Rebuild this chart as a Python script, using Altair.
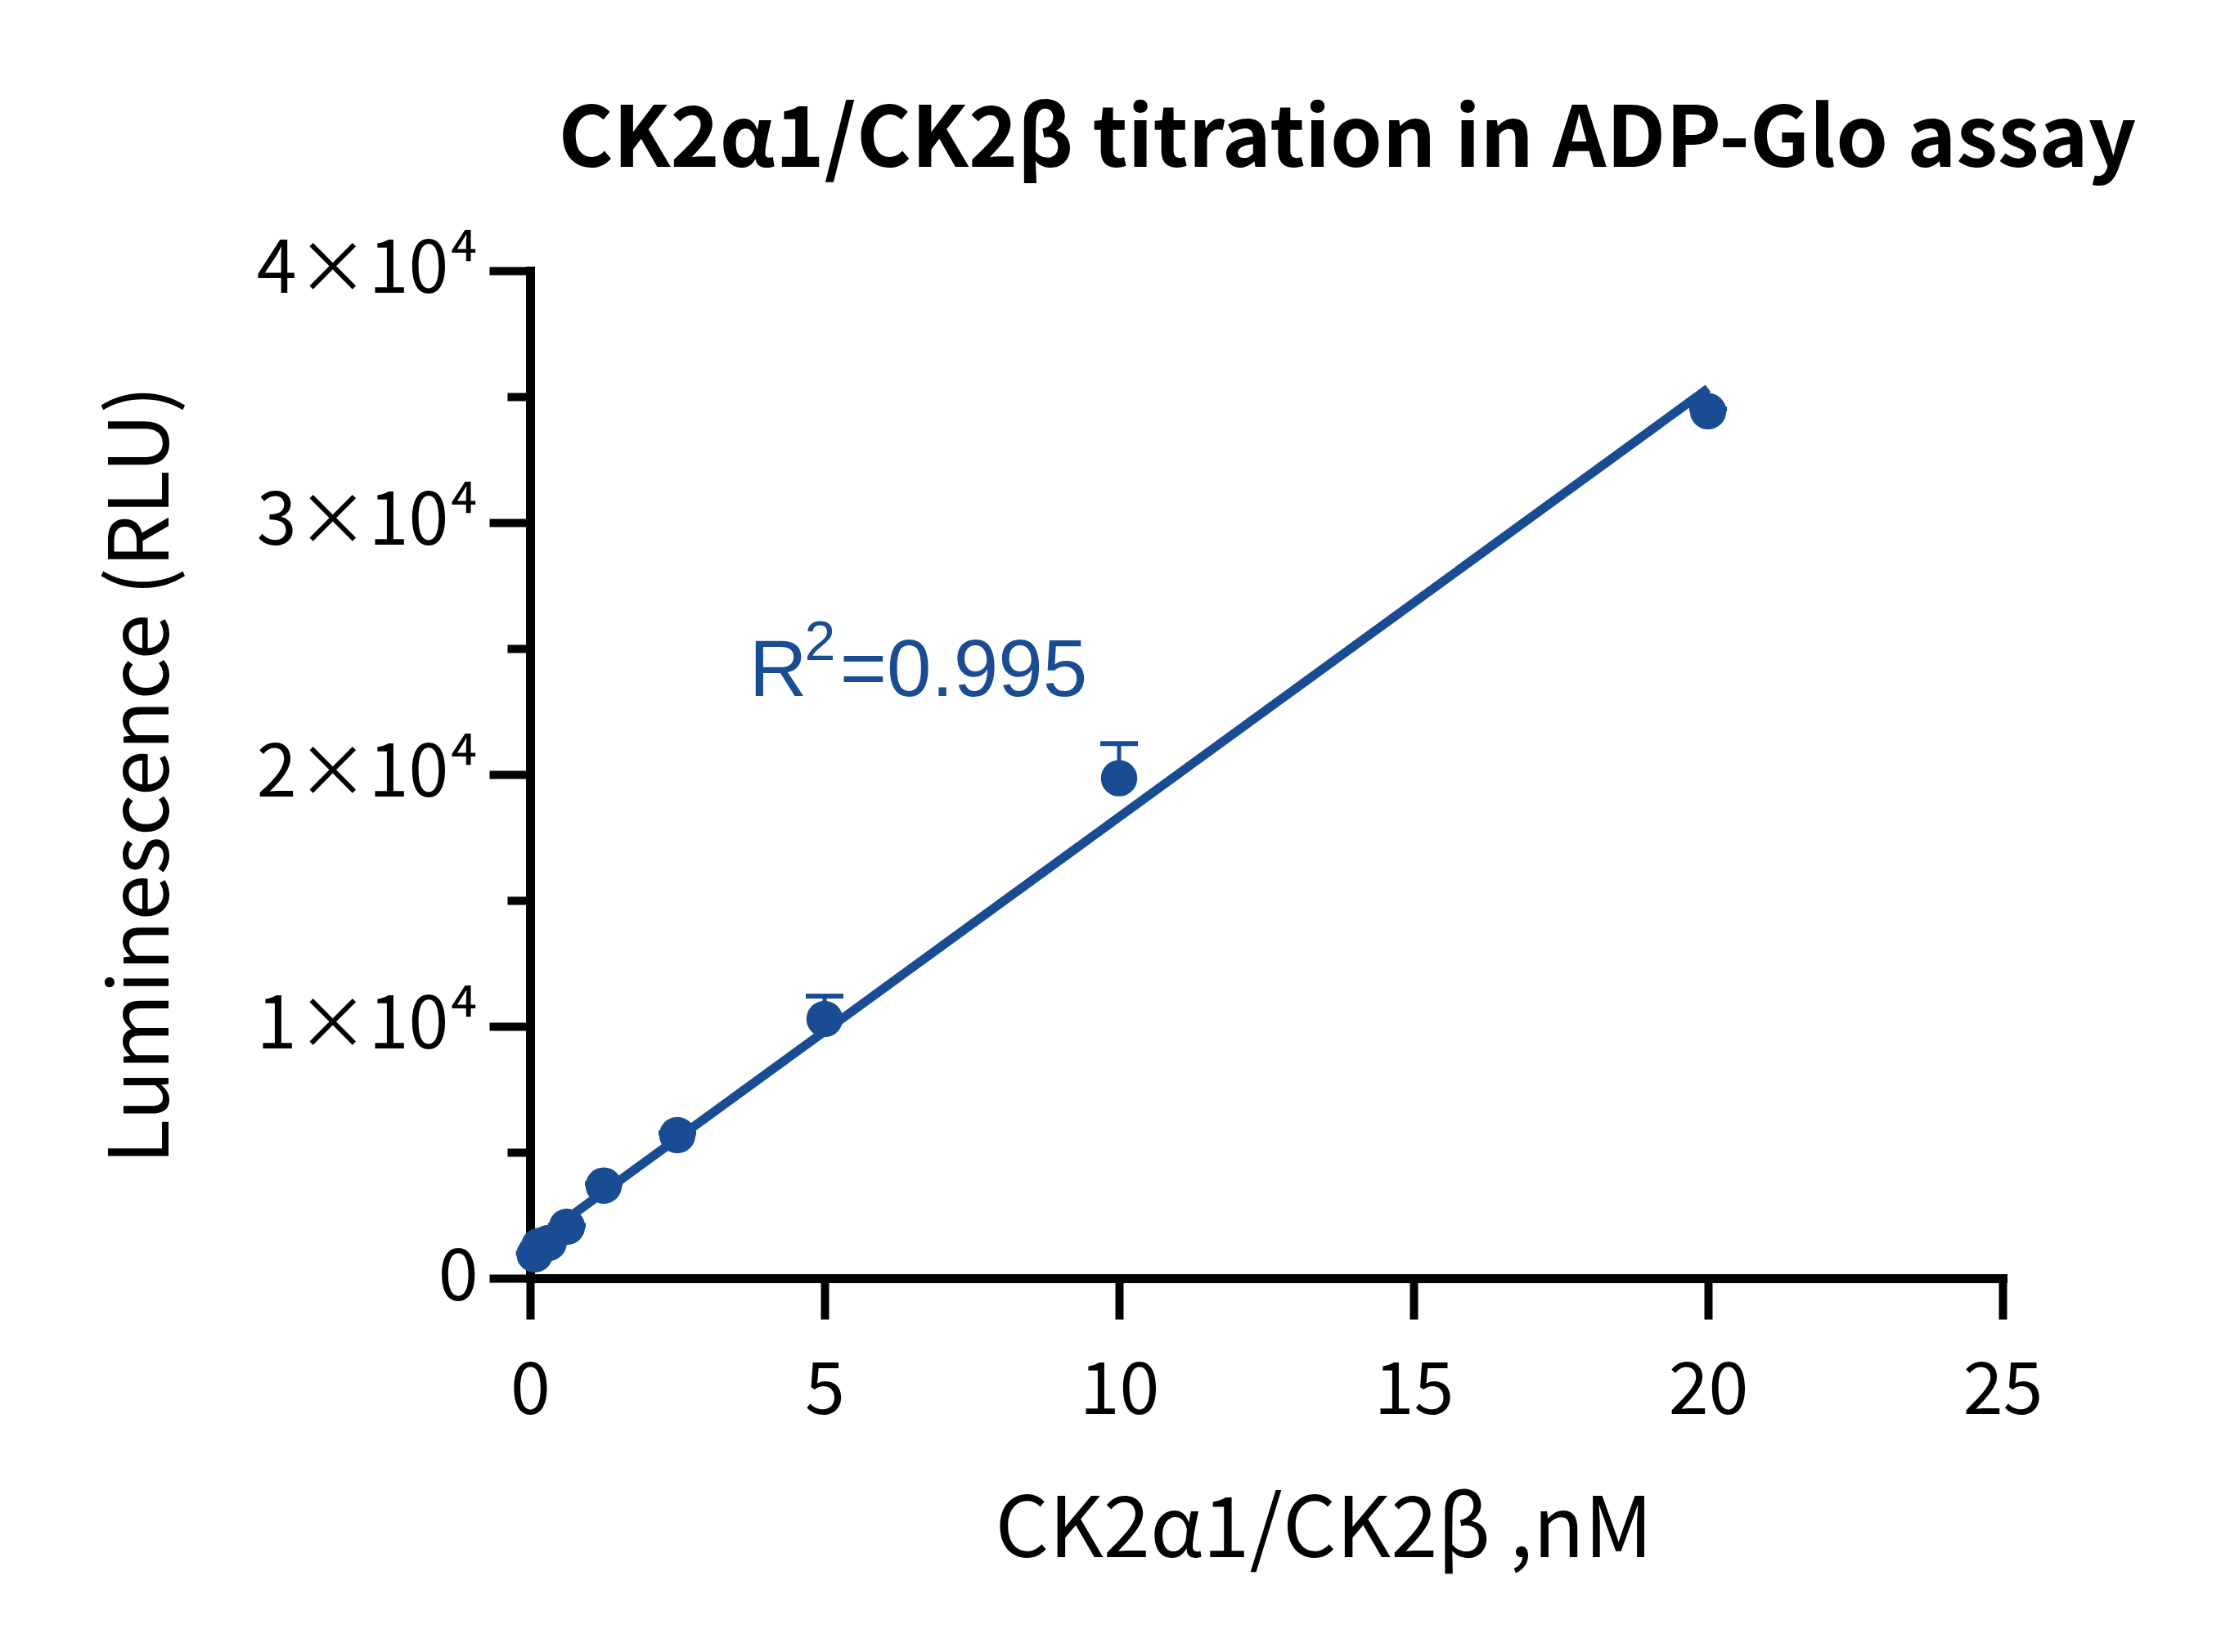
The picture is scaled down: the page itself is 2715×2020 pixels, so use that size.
import altair as alt
import pandas as pd

# ---- data ----
conc = [0.078125, 0.15625, 0.3125, 0.625, 1.25, 2.5, 5, 10, 20]
rlu = [950, 1280, 1400, 2045, 3680, 5680, 10290, 19850, 34420]
sd = [40, 50, 60, 60, 80, 90, 910, 1375, 90]
x_ticks = [0, 5, 10, 15, 20, 25]
y_ticks = [0, 5000, 10000, 15000, 20000, 25000, 30000, 35000, 40000]

BLUE = "#1A4C94"
FONT = "Noto Sans CJK SC"

df = pd.DataFrame({"conc": conc, "rlu": rlu, "sd": sd})

x_enc = alt.X(
    "conc:Q",
    scale=alt.Scale(domain=[0, 25], nice=False, zero=False),
    axis=alt.Axis(
        values=x_ticks,
        format="d",
        title="CK2α1/CK2β ,nM",
        titleFont=FONT,
        titleFontSize=103,
        titleFontWeight="normal",
        titleColor="black",
        titleX=970,
        titleY=340,
        titleBaseline="alphabetic",
        titleAnchor="middle",
        labelFont=FONT,
        labelFontSize=88,
        labelColor="black",
        labelPadding=45,
        labelFlush=False,
        labelOverlap=False,
        labelLimit=0,
        tickSize=50,
        tickWidth=10,
        tickColor="black",
        domainWidth=11,
        domainColor="black",
        domainCap="square",
        grid=False,
    ),
)

y_enc = alt.Y(
    "rlu:Q",
    scale=alt.Scale(domain=[0, 40000], nice=False),
    axis=alt.Axis(
        values=y_ticks,
        labelExpr="datum.value == 0 ? '0' : (datum.value % 10000 == 0 ? format(datum.value / 10000, 'd') + '×10⁴' : '')",
        title="Luminescence (RLU)",
        titleFont=FONT,
        titleFontSize=101,
        titleFontWeight="normal",
        titleColor="black",
        titleX=-443,
        titleY=616,
        titleAngle=270,
        titleBaseline="alphabetic",
        titleAnchor="middle",
        labelFont=FONT,
        labelFontSize=88,
        labelColor="black",
        labelPadding=14,
        labelFlush=False,
        labelOverlap=False,
        labelLimit=0,
        tickSize={"condition": {"test": "datum.value % 10000 == 0", "value": 50}, "value": 28},
        tickWidth=10,
        tickColor="black",
        domainWidth=11,
        domainColor="black",
        domainCap="square",
        grid=False,
    ),
)

base = alt.Chart(df)

fit = base.transform_regression("conc", "rlu", method="linear").mark_line(
    color=BLUE, strokeWidth=11
).encode(x=x_enc, y=y_enc)

err_stem = base.transform_calculate(hi="datum.rlu + datum.sd").mark_rule(
    color=BLUE, strokeWidth=5
).encode(x="conc:Q", y="rlu:Q", y2="hi:Q")

err_cap = base.transform_calculate(hi="datum.rlu + datum.sd").mark_tick(
    color=BLUE, orient="horizontal", size=46, thickness=6, opacity=1
).encode(x="conc:Q", y="hi:Q")

points = base.mark_circle(color=BLUE, size=1980, opacity=1).encode(x="conc:Q", y="rlu:Q")

ann_r = alt.Chart(df).transform_filter("datum.conc == 20").mark_text(
    text="R", font="Liberation Sans", fontSize=98, color=BLUE, align="left", baseline="alphabetic"
).encode(x=alt.datum(3.72), y=alt.datum(23117))

ann_sup = alt.Chart(df).transform_filter("datum.conc == 20").mark_text(
    text="2", font="Liberation Sans", fontSize=68, color=BLUE, align="left", baseline="alphabetic"
).encode(x=alt.datum(4.66), y=alt.datum(24545))

ann_val = alt.Chart(df).transform_filter("datum.conc == 20").mark_text(
    text="=0.995", font="Liberation Sans", fontSize=98, color=BLUE, align="left", baseline="alphabetic"
).encode(x=alt.datum(5.26), y=alt.datum(23117))

chart = alt.layer(fit, err_stem, err_cap, points, ann_r, ann_sup, ann_val).properties(
    width=1800,
    height=1232,
    title=alt.TitleParams(
        "CK2α1/CK2β titration in ADP-Glo assay",
        font=FONT,
        fontSize=102,
        fontWeight="bold",
        color="black",
        anchor="middle",
        frame="group",
        dx=99,
        offset=62,
    ),
    autosize=alt.AutoSizeParams(type="none"),
    padding={"left": 640, "top": 323, "right": 240, "bottom": 430},
).configure(background="white").configure_view(stroke=None)

chart.save("out.html", embed_options={"renderer": "svg", "actions": False})
